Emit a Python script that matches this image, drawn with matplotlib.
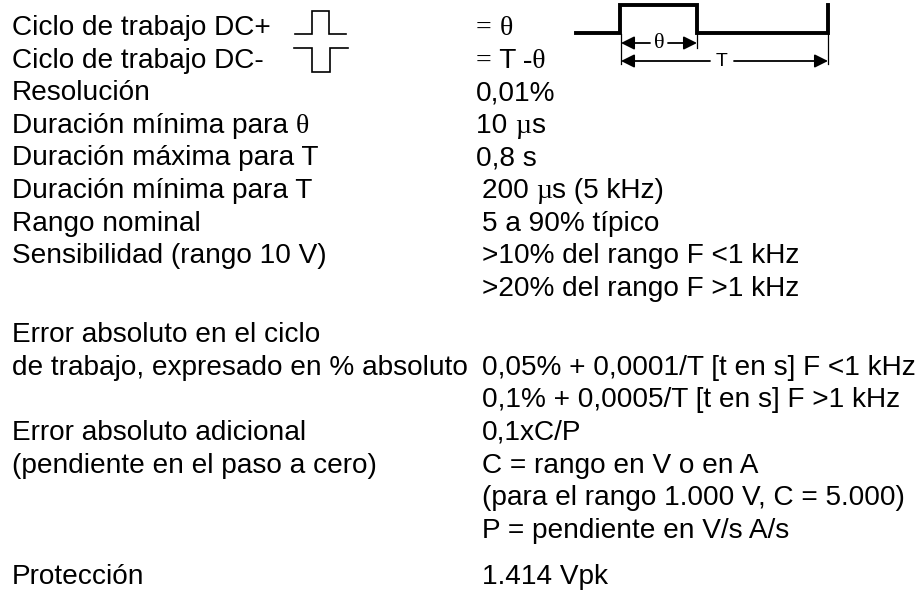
import matplotlib
matplotlib.use("Agg")
import matplotlib.pyplot as plt

# Texto de la tabla (columna izquierda / columna derecha)
etiquetas = [
    "Ciclo de trabajo DC+",
    "Ciclo de trabajo DC-",
    "Resolución",
    "Duración mínima para θ",
    "Duración máxima para T",
    "Duración mínima para T",
    "Rango nominal",
    "Sensibilidad (rango 10 V)",
    "",
    "Error absoluto en el ciclo",
    "de trabajo, expresado en % absoluto",
    "",
    "Error absoluto adicional",
    "(pendiente en el paso a cero)",
    "",
    "",
    "Protección",
]
valores = [
    "= θ",
    "= T -θ",
    "0,01%",
    "10 µs",
    "0,8 s",
    "200 µs (5 kHz)",
    "5 a 90% típico",
    ">10% del rango F <1 kHz",
    ">20% del rango F >1 kHz",
    "",
    "0,05% + 0,0001/T [t en s] F <1 kHz",
    "0,1% + 0,0005/T [t en s] F >1 kHz",
    "0,1xC/P",
    "C = rango en V o en A",
    "(para el rango 1.000 V, C = 5.000)",
    "P = pendiente en V/s A/s",
    "1.414 Vpk",
]
filas_con_espacio = [9, 16]   # filas con un hueco extra encima

# Simbolos de pulso (DC+ y DC-)
pulso_t = [0, 1, 1, 2, 2, 3]
pulso_pos = [0, 0, 1, 1, 0, 0]
pulso_neg = [1, 1, 0, 0, 1, 1]

# Forma de onda grande (tiempo relativo y nivel)
onda_t = [0, 44, 44, 121, 121, 252, 252]
onda_nivel = [0, 0, 1, 1, 0, 0, 1]

FS = 20.2
SANS = "Liberation Sans"
SERIF = "Liberation Serif"

fig = plt.figure(figsize=(9.2, 5.9), dpi=100)
ax = fig.add_axes([0, 0, 1, 1])
ax.set_xlim(0, 920)
ax.set_ylim(590, 0)
ax.axis("off")
r = fig.canvas.get_renderer()


def ancho(txt, fam, fs):
    a = ax.text(0, 0, "x" + txt + "x", family=fam, fontsize=fs)
    b = ax.text(0, 0, "xx", family=fam, fontsize=fs)
    w = a.get_window_extent(r).width - b.get_window_extent(r).width
    a.remove()
    b.remove()
    return w


def escribir(x, y, s, serif_chars="θµ", fs=FS):
    trozos = []
    for ch in s:
        fam = SERIF if ch in serif_chars else SANS
        if trozos and trozos[-1][1] == fam:
            trozos[-1][0] += ch
        else:
            trozos.append([ch, fam])
    for txt, fam in trozos:
        ax.text(x, y, txt, family=fam, fontsize=fs, va="baseline", ha="left")
        x += ancho(txt, fam, fs)


paso = 32.6
hueco = 13.7
y = 35
for i, (et, va) in enumerate(zip(etiquetas, valores)):
    if i in filas_con_espacio:
        y += hueco
    if et:
        escribir(12, y, et)
    if va:
        if i < 2:
            escribir(476, y, va, serif_chars="=θµ-")
        elif i < 5:
            escribir(476, y, va)
        else:
            escribir(482, y, va)
    y += paso

# pulsos pequeños
ax.plot([295 + 17 * t for t in pulso_t], [34 - 23 * v for v in pulso_pos],
        color="black", lw=1.2, solid_joinstyle="miter")
ax.plot([294 + 18 * t for t in pulso_t], [72 - 24 * v for v in pulso_neg],
        color="black", lw=1.2, solid_joinstyle="miter")

# forma de onda grande
ax.plot([576 + t for t in onda_t], [33 - 28 * v for v in onda_nivel],
        color="black", lw=2.8, solid_joinstyle="miter")

# lineas de cota
x0 = 576 + onda_t[1] + 1
x1 = 576 + onda_t[3]
x2 = 576 + onda_t[5]
ax.plot([x0, x0], [34, 64], color="black", lw=0.9)
ax.plot([x1, x1], [33, 48], color="black", lw=0.9)
ax.plot([x2, x2], [34, 64], color="black", lw=0.9)

flecha = dict(arrowstyle="-|>", color="black", lw=1.3, mutation_scale=20,
              shrinkA=0, shrinkB=0)
xt = (x0 + x1) / 2
ax.annotate("", xy=(x0, 43), xytext=(xt - 9, 43), arrowprops=flecha)
ax.annotate("", xy=(x1, 43), xytext=(xt + 9, 43), arrowprops=flecha)
ax.text(xt, 43, "θ", family=SERIF, fontsize=16, ha="center", va="center")

xT = 722
ax.annotate("", xy=(x0, 61), xytext=(xT - 12, 61), arrowprops=flecha)
ax.annotate("", xy=(x2, 61), xytext=(xT + 12, 61), arrowprops=flecha)
ax.text(xT, 62, "T", family=SANS, fontsize=14, ha="center", va="center")

fig.savefig("out.png", dpi=100)
